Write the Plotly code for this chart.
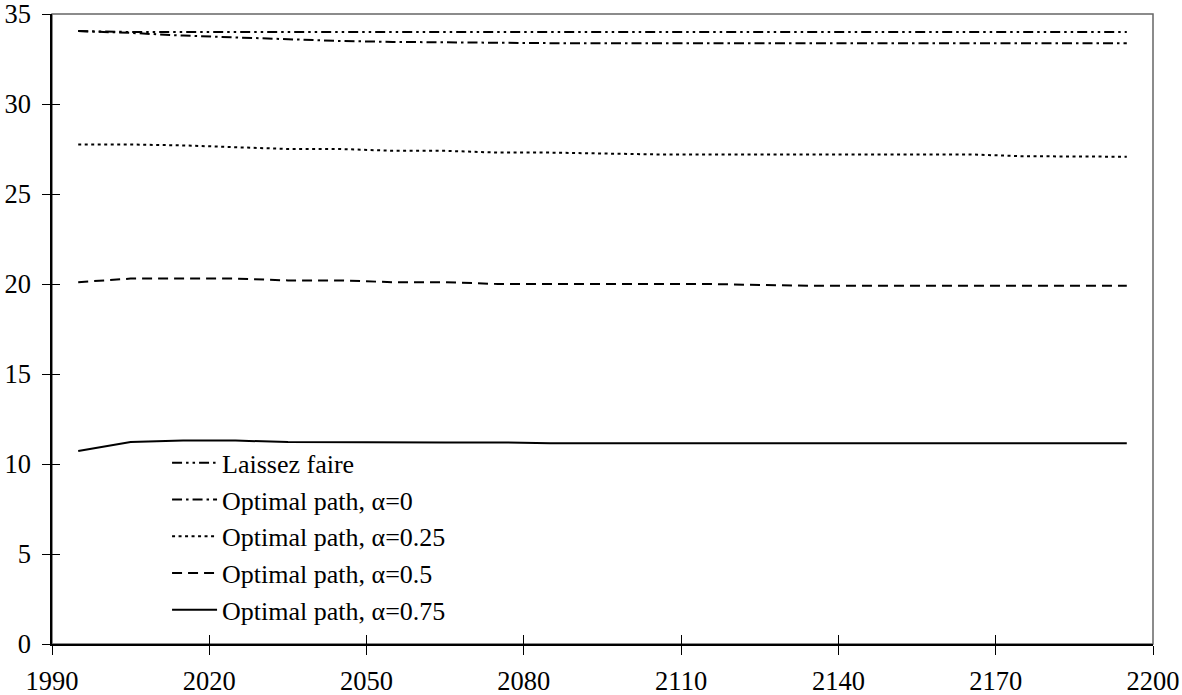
import plotly.graph_objects as go

years = [1995, 2005, 2015, 2025, 2035, 2045, 2055, 2065, 2075, 2085, 2095,
         2105, 2115, 2125, 2135, 2145, 2155, 2165, 2175, 2185, 2195]

laissez_faire = [34.05, 34.0, 34.0, 34.0, 34.0, 34.0, 34.0, 34.0, 34.0, 34.0, 34.0,
                 34.0, 34.0, 34.0, 34.0, 34.0, 34.0, 34.0, 34.0, 34.0, 34.0]
alpha_0 = [34.05, 33.95, 33.8, 33.7, 33.6, 33.5, 33.45, 33.42, 33.4, 33.38, 33.38,
           33.38, 33.38, 33.38, 33.38, 33.38, 33.38, 33.38, 33.38, 33.38, 33.38]
alpha_025 = [27.75, 27.75, 27.7, 27.6, 27.5, 27.5, 27.4, 27.4, 27.3, 27.3, 27.25,
             27.2, 27.2, 27.2, 27.2, 27.2, 27.2, 27.2, 27.1, 27.07, 27.07]
alpha_05 = [20.1, 20.3, 20.3, 20.3, 20.2, 20.2, 20.1, 20.1, 20.0, 20.0, 20.0,
            20.0, 20.0, 19.95, 19.9, 19.9, 19.9, 19.9, 19.9, 19.9, 19.9]
alpha_075 = [10.72, 11.22, 11.3, 11.3, 11.22, 11.2, 11.2, 11.2, 11.2, 11.15, 11.15,
             11.15, 11.15, 11.15, 11.15, 11.15, 11.15, 11.15, 11.15, 11.15, 11.15]

series_names = ["Laissez faire", "Optimal path, α=0", "Optimal path, α=0.25",
                "Optimal path, α=0.5", "Optimal path, α=0.75"]
series_values = [laissez_faire, alpha_0, alpha_025, alpha_05, alpha_075]
dashes = ["10px,4px,2.5px,4px,2.5px,4px", "10px,4px,2.5px,4px", "3px,3.5px",
          "10px,6px", "solid"]

x_ticks = [1990, 2020, 2050, 2080, 2110, 2140, 2170, 2200]
y_ticks = [0, 5, 10, 15, 20, 25, 30, 35]

FONT = "Liberation Serif, Times New Roman, serif"

fig = go.Figure()
for name, vals, dash in zip(series_names, series_values, dashes):
    fig.add_trace(go.Scatter(x=years, y=vals, mode="lines", name=name,
                             line=dict(color="black", width=2, dash=dash)))

# invisible trace to anchor the overlay axes (inner tick halves)
fig.add_trace(go.Scatter(x=[1990], y=[0], xaxis="x2", yaxis="y2", mode="markers",
                         marker=dict(opacity=0), showlegend=False, hoverinfo="skip"))

fig.update_layout(
    width=1182, height=695,
    margin=dict(l=52, r=29, t=14, b=51, autoexpand=False),
    paper_bgcolor="white", plot_bgcolor="white",
    font=dict(family=FONT, size=26.5, color="black"),
    showlegend=True,
    legend=dict(x=0.1045, y=0.325, xanchor="left", yanchor="top", itemwidth=45,
                bgcolor="rgba(0,0,0,0)", font=dict(size=26), tracegroupgap=0),
    xaxis=dict(range=[1990, 2200], tickvals=x_ticks, ticks="outside", ticklen=9,
               tickwidth=1, tickcolor="black", showline=True, linecolor="black",
               linewidth=1.5, showgrid=False, zeroline=False, automargin=False,
               ticklabelstandoff=3, ticklabeloverflow="allow"),
    yaxis=dict(range=[0, 35], tickvals=y_ticks, ticks="outside", ticklen=8,
               tickwidth=1, tickcolor="black", showline=True, linecolor="black",
               linewidth=1.5, showgrid=False, zeroline=False, automargin=False,
               ticklabelstandoff=6, ticklabeloverflow="allow"),
    xaxis2=dict(range=[1990, 2200], tickvals=x_ticks, ticks="inside", ticklen=9,
                tickwidth=1, tickcolor="black", showticklabels=False,
                overlaying="x", anchor="y2", showgrid=False, zeroline=False,
                automargin=False),
    yaxis2=dict(range=[0, 35], tickvals=y_ticks, ticks="inside", ticklen=8,
                tickwidth=1, tickcolor="black", showticklabels=False,
                overlaying="y", anchor="x2", showgrid=False, zeroline=False,
                automargin=False),
    shapes=[dict(type="rect", xref="paper", yref="paper", x0=0, y0=0, x1=1, y1=1,
                 line=dict(color="#666666", width=1.5), layer="below")],
)

fig.write_html("out.html", config={"displayModeBar": False},
               post_script="document.body.style.margin='0';document.body.style.overflow='hidden';")
